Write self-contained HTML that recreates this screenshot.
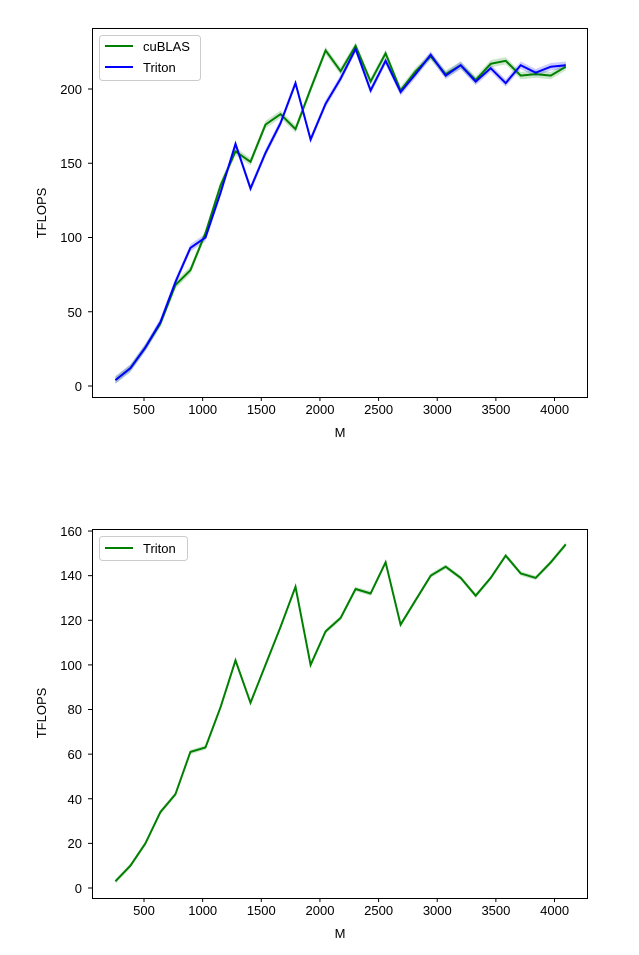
<!DOCTYPE html>
<html><head><style>body{margin:0;background:#fff}svg text{font-family:"Liberation Sans","DejaVu Sans",sans-serif;font-size:13px;fill:#000}</style></head>
<body>
<svg id="s" width="639" height="950" xmlns="http://www.w3.org/2000/svg">
<rect width="639" height="950" fill="#fff"/>
<g id="p1"></g><g id="p2"></g>
<rect x="92.5" y="28.5" width="495" height="369" fill="none" stroke="#000" stroke-width="1"/>
<rect x="92.5" y="529.5" width="495" height="369" fill="none" stroke="#000" stroke-width="1"/>
<g id="ticks" stroke="#000" stroke-width="1"></g>
<g text-anchor="middle">
<text x="144" y="414">500</text><text x="202.7" y="414">1000</text><text x="261.3" y="414">1500</text><text x="320" y="414">2000</text><text x="378.6" y="414">2500</text><text x="437.3" y="414">3000</text><text x="495.9" y="414">3500</text><text x="554.6" y="414">4000</text>
<text x="340" y="437">M</text>
<text x="144" y="915">500</text><text x="202.7" y="915">1000</text><text x="261.3" y="915">1500</text><text x="320" y="915">2000</text><text x="378.6" y="915">2500</text><text x="437.3" y="915">3000</text><text x="495.9" y="915">3500</text><text x="554.6" y="915">4000</text>
<text x="340" y="938">M</text>
<text transform="translate(46,213) rotate(-90)">TFLOPS</text>
<text transform="translate(46,713) rotate(-90)">TFLOPS</text>
</g>
<g text-anchor="end">
<text x="82" y="391">0</text><text x="82" y="317">50</text><text x="82" y="242">100</text><text x="82" y="168">150</text><text x="82" y="94">200</text>
<text x="82" y="893">0</text><text x="82" y="848">20</text><text x="82" y="804">40</text><text x="82" y="759">60</text><text x="82" y="714">80</text><text x="82" y="670">100</text><text x="82" y="625">120</text><text x="82" y="580">140</text><text x="82" y="536">160</text>
</g>
<rect x="99.5" y="35.5" width="101" height="45" rx="3" fill="#fff" fill-opacity="0.8" stroke="#ccc"/>
<line x1="105" y1="46" x2="133" y2="46" stroke="#008000" stroke-width="2"/><text x="143" y="51">cuBLAS</text>
<line x1="105" y1="67" x2="133" y2="67" stroke="#0000ff" stroke-width="2"/><text x="143" y="72">Triton</text>
<rect x="99.5" y="536.5" width="88" height="24" rx="3" fill="#fff" fill-opacity="0.8" stroke="#ccc"/>
<line x1="105" y1="548" x2="133" y2="548" stroke="#008000" stroke-width="2"/><text x="143" y="553">Triton</text>
</svg>
<script>
var M=[];for(var i=2;i<=32;i++)M.push(i*128);
var c=[4,12,26,42,68,78,103,135,158,151,176,183,173,200,226,212,229,205,224,199,212,222,210,216,206,217,219,209,210,209,215];
var t=[4,12,26,43,70,93,100,130,163,133,157,177,204,166,190,207,227,199,219,198,210,223,209,216,205,214,204,216,211,215,216];
var b=[3,10,20,34,42,61,63,81,102,83,100,117,135,100,115,121,134,132,146,118,129,140,144,139,131,139,149,141,139,146,154];
function X(m){return 144+(m-500)*0.11729;}
function pts(d,y0,k){return d.map(function(v,i){return X(M[i]).toFixed(1)+","+(y0-v*k).toFixed(1)}).join(" ");}
function band(d,y0,k,w){var a=d.map(function(v,i){return X(M[i]).toFixed(1)+","+(y0-(v+w)*k).toFixed(1)});var r=d.map(function(v,i){return X(M[i]).toFixed(1)+","+(y0-(v-w)*k).toFixed(1)}).reverse();return a.concat(r).join(" ");}
var ns="http://www.w3.org/2000/svg";
function add(g,tag,at){var e=document.createElementNS(ns,tag);for(var k in at)e.setAttribute(k,at[k]);document.getElementById(g).appendChild(e);}
add("p1","polygon",{points:band(c,386,1.485,2.5),fill:"#008000","fill-opacity":0.2});
add("p1","polygon",{points:band(t,386,1.485,2.5),fill:"#0000ff","fill-opacity":0.2});
add("p1","polyline",{points:pts(c,386,1.485),fill:"none",stroke:"#008000","stroke-width":2});
add("p1","polyline",{points:pts(t,386,1.485),fill:"none",stroke:"#0000ff","stroke-width":2});
add("p2","polygon",{points:band(b,888,2.231,1),fill:"#008000","fill-opacity":0.2});
add("p2","polyline",{points:pts(b,888,2.231),fill:"none",stroke:"#008000","stroke-width":2});
[500,1000,1500,2000,2500,3000,3500,4000].forEach(function(m){var x=X(m);add("ticks","line",{x1:x,x2:x,y1:397,y2:401});add("ticks","line",{x1:x,x2:x,y1:898,y2:902});});
[0,50,100,150,200].forEach(function(v){var y=386-v*1.485;add("ticks","line",{x1:88,x2:92,y1:y,y2:y});});
[0,20,40,60,80,100,120,140,160].forEach(function(v){var y=888-v*2.231;add("ticks","line",{x1:88,x2:92,y1:y,y2:y});});
</script>
</body></html>
